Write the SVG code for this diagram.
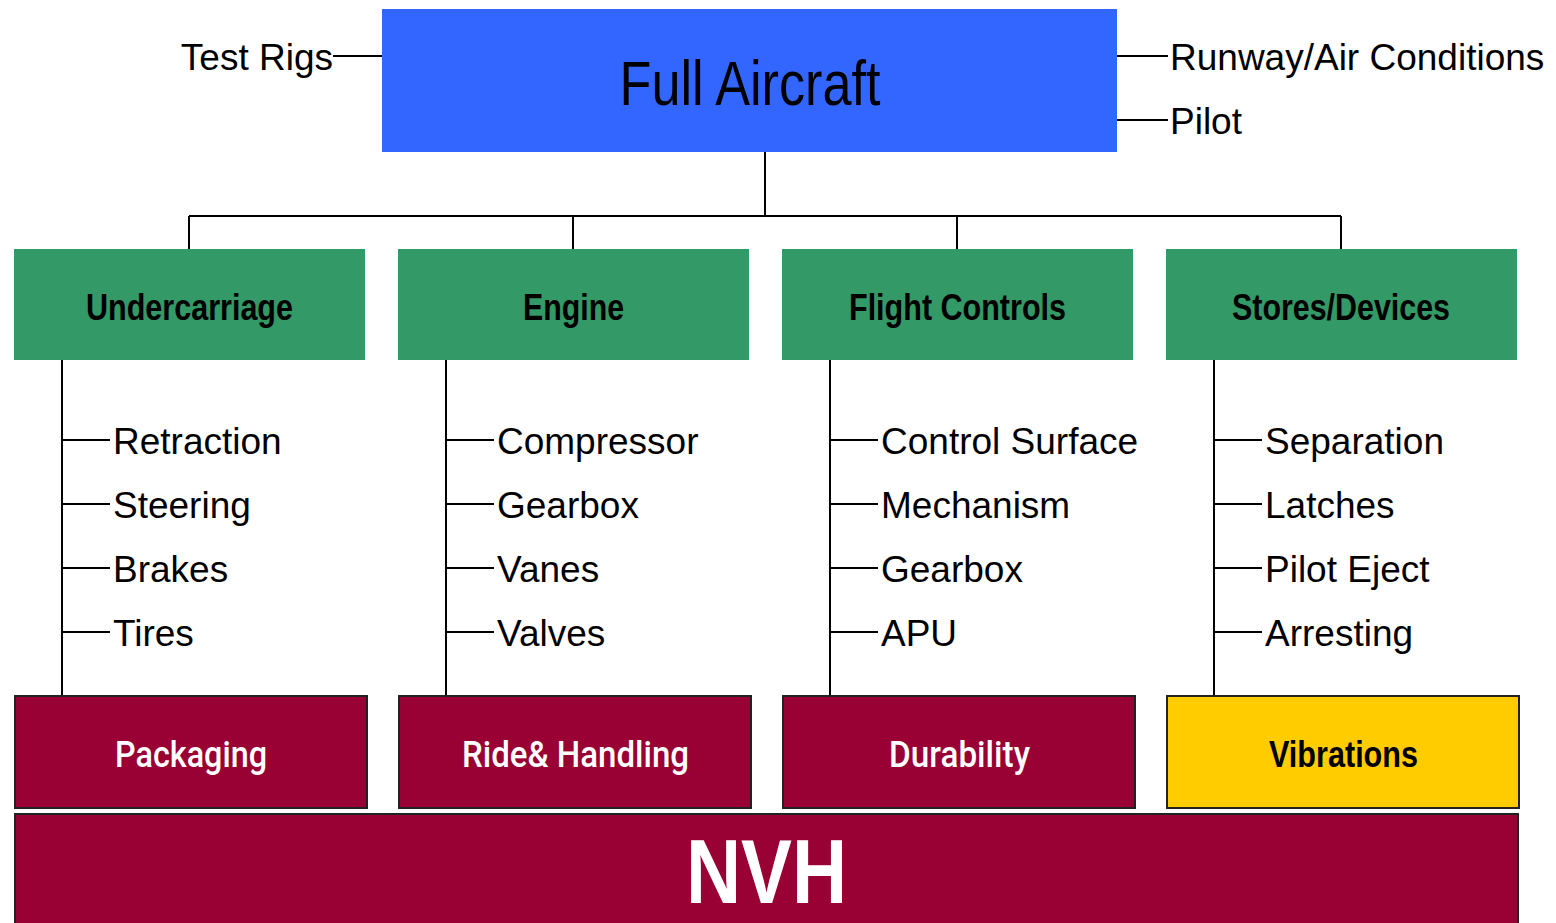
<svg xmlns="http://www.w3.org/2000/svg" width="1556" height="923" viewBox="0 0 1556 923">
  <style>
    .wire { stroke: #000; stroke-width: 2; fill: none; }
    .lbl { font-family: "Liberation Sans", Arial, sans-serif; font-size: 37px; fill: #000; }
    .head { font-family: "Liberation Sans Narrow", "Liberation Sans", Arial, sans-serif; font-weight: bold; font-size: 37px; text-anchor: middle; }
    .light { fill: #fff; font-family: Roboto, "Liberation Sans", sans-serif; font-weight: 500; font-size: 36px; }
    .big { fill: #fff; font-size: 90px; }
    .top { fill: #3366FF; }
    .grp { fill: #339966; }
    .attr { fill: #990033; stroke: #222; stroke-width: 2; }
    .hot { fill: #FFCC00; stroke: #222; stroke-width: 2; }
  </style>
  <rect width="1556" height="923" fill="#fff"/>

  <!-- connectors -->
  <g id="connectors" class="wire">
    <path d="M333 56H382M1117 56H1168M1117 120H1168"/>
    <path d="M765 152V216M189 216H1341M189 216V249M573 216V249M957 216V249M1341 216V249"/>
    <path d="M62 360V696M62 440H110M62 504H110M62 568H110M62 632H110"/>
    <path d="M446 360V696M446 440H494M446 504H494M446 568H494M446 632H494"/>
    <path d="M830 360V696M830 440H878M830 504H878M830 568H878M830 632H878"/>
    <path d="M1214 360V696M1214 440H1262M1214 504H1262M1214 568H1262M1214 632H1262"/>
  </g>

  <!-- top level -->
  <g id="full-aircraft">
    <rect class="top" x="382" y="9" width="735" height="143"/>
    <text x="750" y="105" font-family="Liberation Sans Narrow, Liberation Sans, Arial, sans-serif" font-size="63" text-anchor="middle" textLength="261" lengthAdjust="spacingAndGlyphs">Full Aircraft</text>
  </g>
  <g id="test-rigs"><text class="lbl" x="333" y="70" text-anchor="end">Test Rigs</text></g>
  <g id="runway"><text class="lbl" x="1170" y="70">Runway/Air Conditions</text></g>
  <g id="pilot"><text class="lbl" x="1170" y="134">Pilot</text></g>

  <!-- subsystem groups -->
  <g id="undercarriage">
    <rect class="grp" x="14" y="249" width="351" height="111"/>
    <text class="head" x="189.5" y="320" textLength="207" lengthAdjust="spacingAndGlyphs">Undercarriage</text>
    <text class="lbl" x="113" y="454">Retraction</text>
    <text class="lbl" x="113" y="518">Steering</text>
    <text class="lbl" x="113" y="582">Brakes</text>
    <text class="lbl" x="113" y="646">Tires</text>
  </g>
  <g id="engine">
    <rect class="grp" x="398" y="249" width="351" height="111"/>
    <text class="head" x="573.5" y="320" textLength="101" lengthAdjust="spacingAndGlyphs">Engine</text>
    <text class="lbl" x="497" y="454">Compressor</text>
    <text class="lbl" x="497" y="518">Gearbox</text>
    <text class="lbl" x="497" y="582">Vanes</text>
    <text class="lbl" x="497" y="646">Valves</text>
  </g>
  <g id="flight-controls">
    <rect class="grp" x="782" y="249" width="351" height="111"/>
    <text class="head" x="957.5" y="320" textLength="217" lengthAdjust="spacingAndGlyphs">Flight Controls</text>
    <text class="lbl" x="881" y="454">Control Surface</text>
    <text class="lbl" x="881" y="518">Mechanism</text>
    <text class="lbl" x="881" y="582">Gearbox</text>
    <text class="lbl" x="881" y="646">APU</text>
  </g>
  <g id="stores-devices">
    <rect class="grp" x="1166" y="249" width="351" height="111"/>
    <text class="head" x="1341" y="320" textLength="218" lengthAdjust="spacingAndGlyphs">Stores/Devices</text>
    <text class="lbl" x="1265" y="454">Separation</text>
    <text class="lbl" x="1265" y="518">Latches</text>
    <text class="lbl" x="1265" y="582">Pilot Eject</text>
    <text class="lbl" x="1265" y="646">Arresting</text>
  </g>

  <!-- attributes -->
  <g id="packaging">
    <rect class="attr" x="15" y="696" width="352" height="112"/>
    <text class="head light" x="191" y="767" textLength="152" lengthAdjust="spacingAndGlyphs">Packaging</text>
  </g>
  <g id="ride-handling">
    <rect class="attr" x="399" y="696" width="352" height="112"/>
    <text class="head light" x="575.5" y="767" textLength="227" lengthAdjust="spacingAndGlyphs">Ride&amp; Handling</text>
  </g>
  <g id="durability">
    <rect class="attr" x="783" y="696" width="352" height="112"/>
    <text class="head light" x="959.5" y="767" textLength="141" lengthAdjust="spacingAndGlyphs">Durability</text>
  </g>
  <g id="vibrations">
    <rect class="hot" x="1167" y="696" width="352" height="112"/>
    <text class="head" x="1343.5" y="767" textLength="149" lengthAdjust="spacingAndGlyphs">Vibrations</text>
  </g>
  <g id="nvh">
    <rect class="attr" x="15" y="814" width="1503" height="120"/>
    <text class="head big" x="766.5" y="903" textLength="161" lengthAdjust="spacingAndGlyphs">NVH</text>
  </g>
</svg>
